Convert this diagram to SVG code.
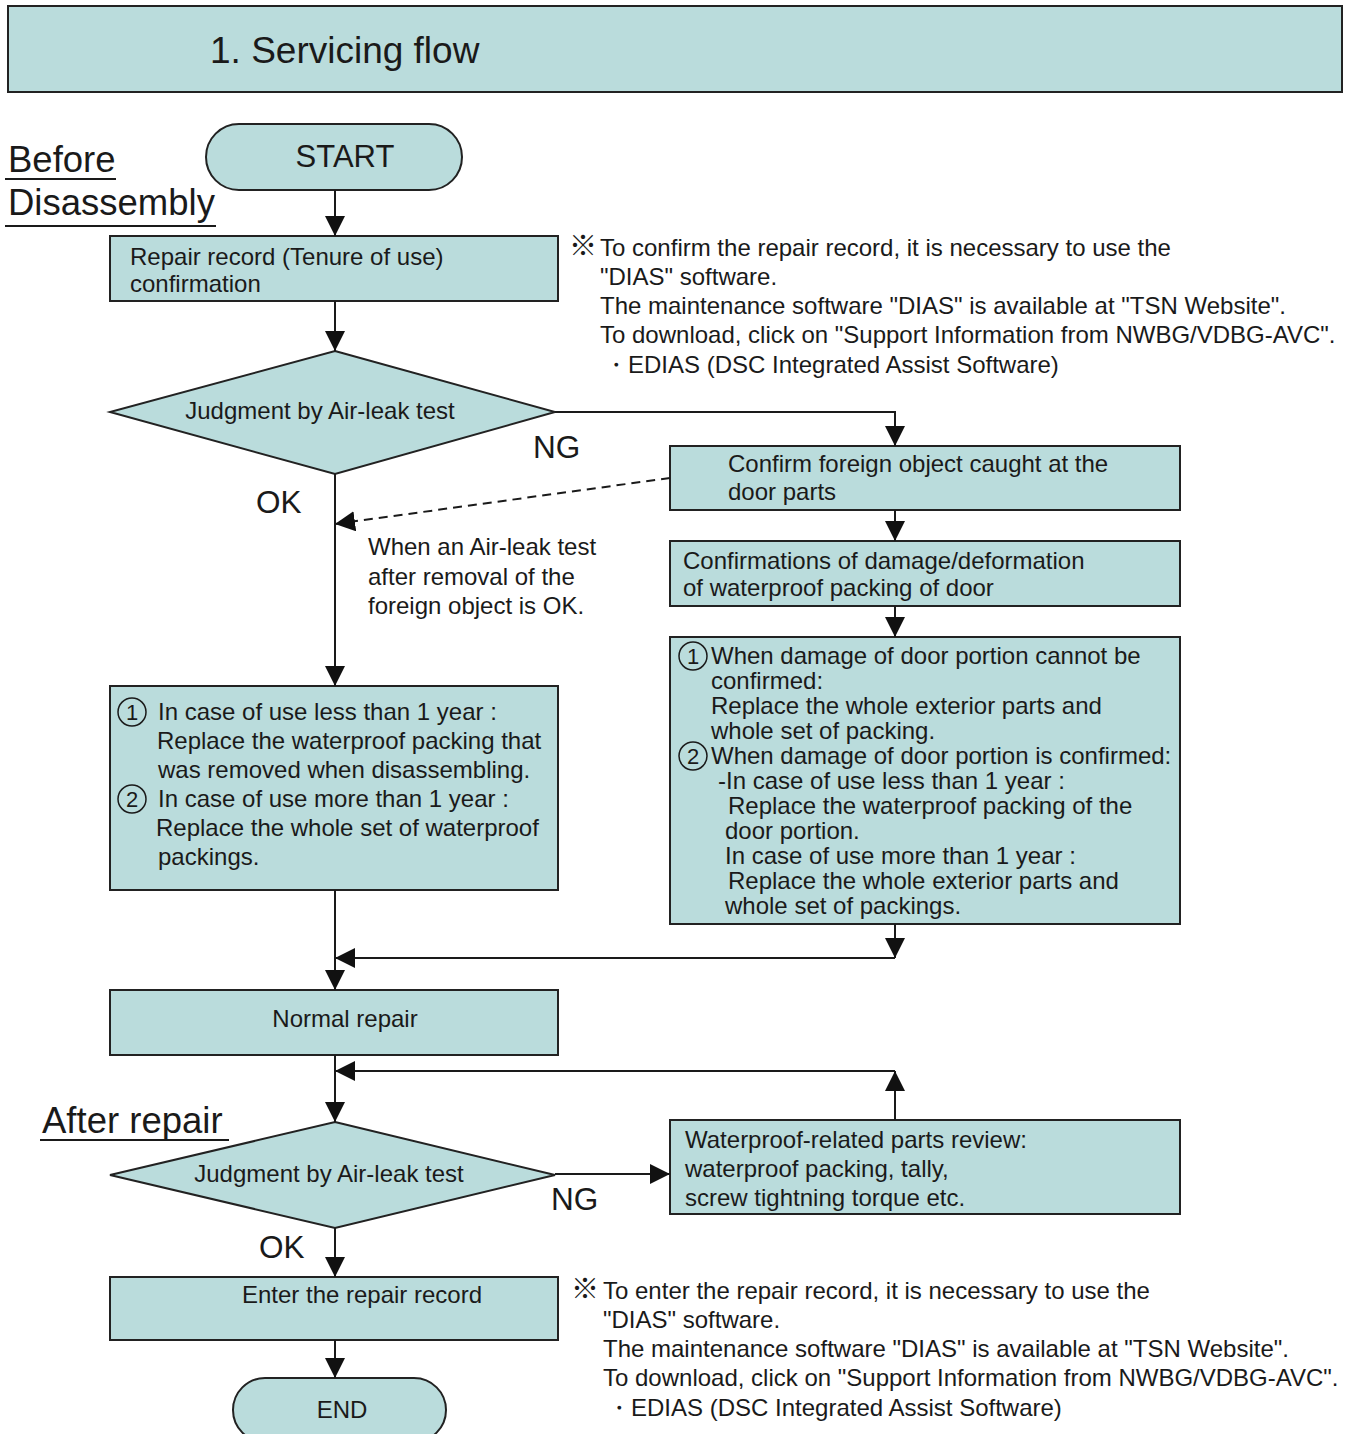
<svg xmlns="http://www.w3.org/2000/svg" width="1348" height="1434" viewBox="0 0 1348 1434">
<style>
.box{fill:#badcdc;stroke:#222;stroke-width:2}
.t{font-family:"Liberation Sans",Arial,sans-serif;fill:#1a1a1a}
.s22{font-size:24px}
.s30{font-size:31.5px}
.s36{font-size:36.5px}
.ln{fill:none;stroke:#1a1a1a;stroke-width:2}
.dash{stroke-dasharray:9,6}
.ul{stroke:#1a1a1a;stroke-width:2}
.cn{font-family:"Noto Sans CJK JP","DejaVu Sans",sans-serif;font-size:28px;fill:#1a1a1a}
.nt{font-family:"Liberation Sans",Arial,sans-serif;font-size:24px;fill:#1a1a1a}
</style>
<defs>
<marker id="ah" viewBox="0 0 20 20" refX="20" refY="10" markerWidth="20" markerHeight="20" orient="auto" markerUnits="userSpaceOnUse">
<path d="M0,0 L20,10 L0,20 z" fill="#111"/>
</marker>
</defs>
<rect width="1348" height="1434" fill="#ffffff"/>

<g id="title">
<rect x="8" y="6" width="1334" height="86" class="box"/>
<text x="210" y="63" class="t" font-size="37">1. Servicing flow</text>
</g>

<g id="labels">
<text x="8" y="172" class="t s36">Before</text>
<line x1="5" y1="179" x2="116" y2="179" class="ul"/>
<text x="8" y="215" class="t s36">Disassembly</text>
<line x1="5" y1="226" x2="216" y2="226" class="ul"/>
<text x="42" y="1133" class="t s36">After repair</text>
<line x1="40" y1="1140" x2="229" y2="1140" class="ul"/>
<text x="533" y="458" class="t s30">NG</text>
<text x="256" y="513" class="t s30">OK</text>
<text x="551" y="1210" class="t s30">NG</text>
<text x="259" y="1258" class="t s30">OK</text>
<text class="t s22"><tspan x="368" y="555">When an Air-leak test</tspan><tspan x="368" y="585">after removal of the</tspan><tspan x="368" y="614">foreign object is OK.</tspan></text>
</g>

<g id="note1">
<text x="569" y="256" class="cn" font-size="22">※</text>
<text class="nt"><tspan x="600" y="256">To confirm the repair record, it is necessary to use the</tspan><tspan x="600" y="285">"DIAS" software.</tspan><tspan x="600" y="314">The maintenance software "DIAS" is available at "TSN Website".</tspan><tspan x="600" y="343">To download, click on "Support Information from NWBG/VDBG-AVC".</tspan><tspan x="604" y="373">・EDIAS (DSC Integrated Assist Software)</tspan></text>
</g>

<g id="note2">
<text x="571" y="1299" class="cn" font-size="22">※</text>
<text class="nt"><tspan x="603" y="1299">To enter the repair record, it is necessary to use the</tspan><tspan x="603" y="1328">"DIAS" software.</tspan><tspan x="603" y="1357">The maintenance software "DIAS" is available at "TSN Website".</tspan><tspan x="603" y="1386">To download, click on "Support Information from NWBG/VDBG-AVC".</tspan><tspan x="607" y="1416">・EDIAS (DSC Integrated Assist Software)</tspan></text>
</g>

<g id="start">
<rect x="206" y="124" width="256" height="66" rx="33" class="box"/>
<text x="345" y="167" class="t" font-size="31" text-anchor="middle">START</text>
</g>

<g id="repair-record">
<rect x="110" y="236" width="448" height="65" class="box"/>
<text class="t s22"><tspan x="130" y="265">Repair record (Tenure of use)</tspan><tspan x="130" y="292">confirmation</tspan></text>
</g>

<g id="judge1">
<polygon points="335,351 555,412 335,474 110,412" class="box"/>
<text x="320" y="419" class="t s22" text-anchor="middle">Judgment by Air-leak test</text>
</g>

<g id="foreign">
<rect x="670" y="446" width="510" height="64" class="box"/>
<text class="t s22"><tspan x="728" y="472">Confirm foreign object caught at the</tspan><tspan x="728" y="500">door parts</tspan></text>
</g>

<g id="damage">
<rect x="670" y="541" width="510" height="65" class="box"/>
<text class="t s22"><tspan x="683" y="569">Confirmations of damage/deformation</tspan><tspan x="683" y="596">of waterproof packing of door</tspan></text>
</g>

<g id="replace-right">
<rect x="670" y="637" width="510" height="287" class="box"/>
<circle cx="693" cy="656" r="14" fill="none" stroke="#1a1a1a" stroke-width="1.5"/>
<text x="693" y="664" class="t" font-size="22" text-anchor="middle">1</text>
<circle cx="693" cy="756" r="14" fill="none" stroke="#1a1a1a" stroke-width="1.5"/>
<text x="693" y="764" class="t" font-size="22" text-anchor="middle">2</text>
<text class="t s22"><tspan x="711" y="664">When damage of door portion cannot be</tspan><tspan x="711" y="689">confirmed:</tspan><tspan x="711" y="714">Replace the whole exterior parts and</tspan><tspan x="711" y="739">whole set of packing.</tspan><tspan x="711" y="764">When damage of door portion is confirmed:</tspan><tspan x="718" y="789">-In case of use less than 1 year :</tspan><tspan x="728" y="814">Replace the waterproof packing of the</tspan><tspan x="725" y="839">door portion.</tspan><tspan x="725" y="864">In case of use more than 1 year :</tspan><tspan x="728" y="889">Replace the whole exterior parts and</tspan><tspan x="725" y="914">whole set of packings.</tspan></text>
</g>

<g id="replace-left">
<rect x="110" y="686" width="448" height="204" class="box"/>
<circle cx="132" cy="712" r="14" fill="none" stroke="#1a1a1a" stroke-width="1.5"/>
<text x="132" y="720" class="t" font-size="22" text-anchor="middle">1</text>
<circle cx="132" cy="799" r="14" fill="none" stroke="#1a1a1a" stroke-width="1.5"/>
<text x="132" y="807" class="t" font-size="22" text-anchor="middle">2</text>
<text class="t s22"><tspan x="158" y="720">In case of use less than 1 year :</tspan><tspan x="157" y="749">Replace the waterproof packing that</tspan><tspan x="158" y="778">was removed when disassembling.</tspan><tspan x="158" y="807">In case of use more than 1 year :</tspan><tspan x="156" y="836">Replace the whole set of waterproof</tspan><tspan x="158" y="865">packings.</tspan></text>
</g>

<g id="normal-repair">
<rect x="110" y="990" width="448" height="65" class="box"/>
<text x="345" y="1027" class="t s22" text-anchor="middle">Normal repair</text>
</g>

<g id="judge2">
<polygon points="335,1122 555,1175 335,1228 110,1175" class="box"/>
<text x="329" y="1182" class="t s22" text-anchor="middle">Judgment by Air-leak test</text>
</g>

<g id="review">
<rect x="670" y="1120" width="510" height="94" class="box"/>
<text class="t s22"><tspan x="685" y="1148">Waterproof-related parts review:</tspan><tspan x="685" y="1177">waterproof packing, tally,</tspan><tspan x="685" y="1206">screw tightning torque etc.</tspan></text>
</g>

<g id="enter-record">
<rect x="110" y="1277" width="448" height="63" class="box"/>
<text x="362" y="1303" class="t s22" text-anchor="middle">Enter the repair record</text>
</g>

<g id="end">
<rect x="233" y="1378" width="213" height="64" rx="32" class="box"/>
<text x="342" y="1418" class="t s22" text-anchor="middle">END</text>
</g>

<g id="connectors">
<line x1="335" y1="190" x2="335" y2="236" class="ln" marker-end="url(#ah)"/>
<line x1="335" y1="301" x2="335" y2="351" class="ln" marker-end="url(#ah)"/>
<polyline points="555,412 895,412 895,446" class="ln" marker-end="url(#ah)"/>
<line x1="670" y1="478" x2="335" y2="524" class="ln dash" marker-end="url(#ah)"/>
<line x1="335" y1="474" x2="335" y2="686" class="ln" marker-end="url(#ah)"/>
<line x1="895" y1="510" x2="895" y2="541" class="ln" marker-end="url(#ah)"/>
<line x1="895" y1="606" x2="895" y2="637" class="ln" marker-end="url(#ah)"/>
<line x1="895" y1="924" x2="895" y2="958" class="ln" marker-end="url(#ah)"/>
<line x1="895" y1="958" x2="335" y2="958" class="ln" marker-end="url(#ah)"/>
<line x1="335" y1="890" x2="335" y2="990" class="ln" marker-end="url(#ah)"/>
<line x1="335" y1="1055" x2="335" y2="1122" class="ln" marker-end="url(#ah)"/>
<line x1="555" y1="1174" x2="670" y2="1174" class="ln" marker-end="url(#ah)"/>
<line x1="895" y1="1120" x2="895" y2="1071" class="ln" marker-end="url(#ah)"/>
<line x1="895" y1="1071" x2="335" y2="1071" class="ln" marker-end="url(#ah)"/>
<line x1="335" y1="1228" x2="335" y2="1277" class="ln" marker-end="url(#ah)"/>
<line x1="335" y1="1340" x2="335" y2="1378" class="ln" marker-end="url(#ah)"/>
</g>
</svg>
